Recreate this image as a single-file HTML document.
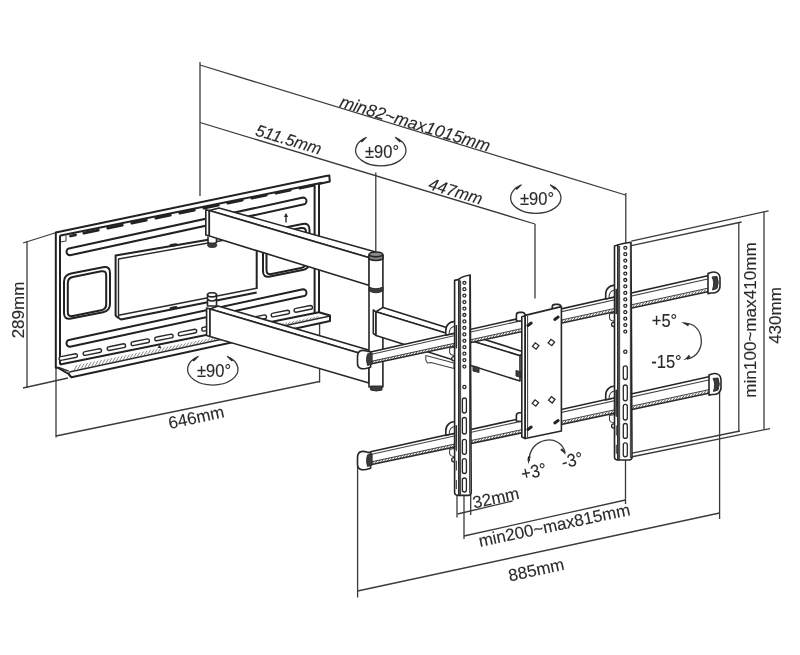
<!DOCTYPE html>
<html><head><meta charset="utf-8"><title>TV wall mount dimensions</title>
<style>
html,body{margin:0;padding:0;background:#fff;}
body{width:800px;height:655px;overflow:hidden;font-family:"Liberation Sans",sans-serif;}
svg{display:block;}
.d{stroke:#3a3a3a;stroke-width:1.3;fill:none;}
.p{stroke:#202020;stroke-width:2;fill:#fff;stroke-linejoin:round;}
.p2{stroke:#2a2a2a;stroke-width:1.4;fill:#fff;stroke-linejoin:round;}
.o{stroke:#262626;stroke-width:1.6;fill:#fff;stroke-linejoin:round;}
.t{stroke:#404040;stroke-width:1.05;fill:#fff;stroke-linejoin:round;}
.t2{stroke:#262626;stroke-width:1.3;fill:#fff;}
.s{stroke:#222;stroke-width:2.8;fill:none;stroke-linecap:round;}
.s3{stroke:#333;stroke-width:1.7;fill:none;}
.s2{stroke:#222;stroke-width:2.8;fill:none;stroke-linecap:round;}
.h{stroke:#444;stroke-width:0.9;fill:none;}
.h2{stroke:#666;stroke-width:0.8;fill:none;}
.k{stroke:#2e2e2e;stroke-width:1;fill:#3a3a3a;}
.k2{stroke:#262626;stroke-width:1.5;fill:#8a8a8a;}
.n{fill:none;}
.ah{fill:#2e2e2e;stroke:none;}
text{font-family:"Liberation Sans",sans-serif;fill:#2a2a2a;text-anchor:middle;stroke:#2a2a2a;stroke-width:0.12px;}
.ti{font-style:italic;}
</style></head>
<body>
<svg width="800" height="655" viewBox="0 0 800 655">
<defs><filter id="soft" x="0" y="0" width="800" height="655" filterUnits="userSpaceOnUse"><feGaussianBlur stdDeviation="0.42"/></filter></defs>
<rect width="800" height="655" fill="#fff"/>
<g filter="url(#soft)">
<g id="dims">
<line class="d" x1="200" y1="62" x2="200" y2="196"/>
<line class="d" x1="200" y1="65" x2="625.5" y2="195"/>
<line class="d" x1="200" y1="122.5" x2="535" y2="224"/>
<line class="d" x1="375.8" y1="172.5" x2="375.8" y2="253"/>
<line class="d" x1="535" y1="224" x2="535" y2="298.5"/>
<line class="d" x1="625.8" y1="193" x2="625.8" y2="244"/>
<line class="d" x1="631.3" y1="241.2" x2="768.6" y2="210.8"/>
<line class="d" x1="631.3" y1="245.7" x2="741.6" y2="222"/>
<line class="d" x1="738.8" y1="222.5" x2="738.8" y2="431"/>
<line class="d" x1="764" y1="212" x2="764" y2="429.5"/>
<line class="d" x1="631" y1="453.3" x2="740" y2="431"/>
<line class="d" x1="631" y1="457" x2="770" y2="428.6"/>
<line class="d" x1="625.5" y1="457" x2="625.5" y2="504"/>
<line class="d" x1="719.6" y1="392" x2="719.6" y2="519"/>
<line class="d" x1="357.6" y1="466" x2="357.6" y2="597.5"/>
<line class="d" x1="357.6" y1="591" x2="719.6" y2="513"/>
<line class="d" x1="464" y1="495" x2="464" y2="539"/>
<line class="d" x1="464" y1="536" x2="625.5" y2="500"/>
<line class="d" x1="457" y1="495" x2="457" y2="517.5"/>
<line class="d" x1="470.7" y1="495" x2="470.7" y2="515"/>
<line class="d" x1="457.5" y1="514" x2="512.5" y2="501"/>
<line class="d" x1="27" y1="241" x2="27" y2="388"/>
<line class="d" x1="23" y1="243" x2="58" y2="232"/>
<line class="d" x1="23" y1="388" x2="68" y2="378"/>
<line class="d" x1="56" y1="367" x2="56" y2="437.5"/>
<line class="d" x1="56" y1="436" x2="319.6" y2="381.5"/>
<line class="d" x1="319.6" y1="322" x2="319.6" y2="382.5"/>
</g>
<g id="plate">
<polygon class="p" points="55.8,232.5 326,176 329.3,175.5 329.8,181.5 319,184 319,312.2 330,315.5 330,321 71.5,377.3 68.6,374 58.3,367.8 55.8,367.8"/>
<line class="p" x1="59.5" y1="235.8" x2="322" y2="182.8"/>
<polyline class="t n" points="60,242 66,241 66,235.5"/>
<line class="p" x1="60" y1="236" x2="60" y2="364.5"/>
<line class="p" x1="314.6" y1="186" x2="314.6" y2="313"/>
<line class="p" x1="60" y1="364.5" x2="319" y2="312.2"/>
<line class="p2" x1="58.5" y1="367.5" x2="68.8" y2="371.2"/>
<path class="p2 n" d="M71.5 377.3 Q67.5 375 69.5 372"/>
<line class="p2" x1="69.5" y1="372" x2="330" y2="316"/>
<line class="h2" x1="74" y1="370.4" x2="77" y2="365.1"/>
<line class="h2" x1="77.5" y1="369.7" x2="80.5" y2="364.4"/>
<line class="h2" x1="81" y1="368.9" x2="84" y2="363.7"/>
<line class="h2" x1="84.5" y1="368.2" x2="87.5" y2="363"/>
<line class="h2" x1="88" y1="367.4" x2="91" y2="362.2"/>
<line class="h2" x1="91.5" y1="366.7" x2="94.5" y2="361.5"/>
<line class="h2" x1="95" y1="365.9" x2="98" y2="360.8"/>
<line class="h2" x1="98.5" y1="365.2" x2="101.5" y2="360.1"/>
<line class="h2" x1="102" y1="364.4" x2="105" y2="359.4"/>
<line class="h2" x1="105.5" y1="363.7" x2="108.5" y2="358.7"/>
<line class="h2" x1="109" y1="362.9" x2="112" y2="358"/>
<line class="h2" x1="112.5" y1="362.2" x2="115.5" y2="357.3"/>
<line class="h2" x1="116" y1="361.4" x2="119" y2="356.6"/>
<line class="h2" x1="119.5" y1="360.6" x2="122.5" y2="355.9"/>
<line class="h2" x1="123" y1="359.9" x2="126" y2="355.2"/>
<line class="h2" x1="126.5" y1="359.1" x2="129.5" y2="354.5"/>
<line class="h2" x1="130" y1="358.4" x2="133" y2="353.8"/>
<line class="h2" x1="133.5" y1="357.6" x2="136.5" y2="353.1"/>
<line class="h2" x1="137" y1="356.9" x2="140" y2="352.3"/>
<line class="h2" x1="140.5" y1="356.1" x2="143.5" y2="351.6"/>
<line class="h2" x1="144" y1="355.4" x2="147" y2="350.9"/>
<line class="h2" x1="147.5" y1="354.6" x2="150.5" y2="350.2"/>
<line class="h2" x1="151" y1="353.9" x2="154" y2="349.5"/>
<line class="h2" x1="154.5" y1="353.1" x2="157.5" y2="348.8"/>
<line class="h2" x1="158" y1="352.4" x2="161" y2="348.1"/>
<line class="h2" x1="161.5" y1="351.6" x2="164.5" y2="347.4"/>
<line class="h2" x1="165" y1="350.9" x2="168" y2="346.7"/>
<line class="h2" x1="168.5" y1="350.1" x2="171.5" y2="346"/>
<line class="h2" x1="172" y1="349.4" x2="175" y2="345.3"/>
<line class="h2" x1="175.5" y1="348.6" x2="178.5" y2="344.6"/>
<line class="h2" x1="179" y1="347.9" x2="182" y2="343.9"/>
<line class="h2" x1="182.5" y1="347.1" x2="185.5" y2="343.2"/>
<line class="h2" x1="186" y1="346.4" x2="189" y2="342.4"/>
<line class="h2" x1="189.5" y1="345.6" x2="192.5" y2="341.7"/>
<line class="h2" x1="193" y1="344.8" x2="196" y2="341"/>
<line class="h2" x1="196.5" y1="344.1" x2="199.5" y2="340.3"/>
<line class="h2" x1="200" y1="343.3" x2="203" y2="339.6"/>
<line class="h2" x1="203.5" y1="342.6" x2="206.5" y2="338.9"/>
<line class="h2" x1="207" y1="341.8" x2="210" y2="338.2"/>
<line class="h2" x1="210.5" y1="341.1" x2="213.5" y2="337.5"/>
<line class="h2" x1="214" y1="340.3" x2="217" y2="336.8"/>
<line class="h2" x1="217.5" y1="339.6" x2="220.5" y2="336.1"/>
<line class="h2" x1="221" y1="338.8" x2="224" y2="335.4"/>
<line class="h2" x1="224.5" y1="338.1" x2="227.5" y2="334.7"/>
<line class="h2" x1="228" y1="337.3" x2="231" y2="334"/>
<line class="h2" x1="231.5" y1="336.6" x2="234.5" y2="333.3"/>
<line class="h2" x1="235" y1="335.8" x2="238" y2="332.5"/>
<line class="h2" x1="238.5" y1="335.1" x2="241.5" y2="331.8"/>
<line class="h2" x1="242" y1="334.3" x2="245" y2="331.1"/>
<line class="h2" x1="245.5" y1="333.6" x2="248.5" y2="330.4"/>
<line class="h2" x1="249" y1="332.8" x2="252" y2="329.7"/>
<line class="h2" x1="252.5" y1="332.1" x2="255.5" y2="329"/>
<line class="h2" x1="256" y1="331.3" x2="259" y2="328.3"/>
<line class="h2" x1="259.5" y1="330.5" x2="262.5" y2="327.6"/>
<line class="h2" x1="263" y1="329.8" x2="266" y2="326.9"/>
<line class="h2" x1="266.5" y1="329" x2="269.5" y2="326.2"/>
<line class="h2" x1="270" y1="328.3" x2="273" y2="325.5"/>
<line class="h2" x1="273.5" y1="327.5" x2="276.5" y2="324.8"/>
<line class="h2" x1="277" y1="326.8" x2="280" y2="324.1"/>
<line class="h2" x1="280.5" y1="326" x2="283.5" y2="323.4"/>
<line class="h2" x1="284" y1="325.3" x2="287" y2="322.7"/>
<line class="h2" x1="287.5" y1="324.5" x2="290.5" y2="321.9"/>
<line class="h2" x1="291" y1="323.8" x2="294" y2="321.2"/>
<line class="h2" x1="294.5" y1="323" x2="297.5" y2="320.5"/>
<line class="h2" x1="298" y1="322.3" x2="301" y2="319.8"/>
<line class="h2" x1="301.5" y1="321.5" x2="304.5" y2="319.1"/>
<line class="h2" x1="305" y1="320.8" x2="308" y2="318.4"/>
<line class="h2" x1="308.5" y1="320" x2="311.5" y2="317.7"/>
<line class="h2" x1="312" y1="319.3" x2="315" y2="317"/>
<line class="h2" x1="315.5" y1="318.5" x2="318.5" y2="316.3"/>
<path class="ah" d="M157.5 348 l2 -3.2 l2 3.2 Z"/>
<path class="s" d="M70.5 236 l5 -1"/>
<path class="s" d="M83.8 233.2 l14.5 -3"/>
<path class="s" d="M107.8 228.2 l14.5 -3"/>
<path class="s" d="M131.8 223.2 l14.5 -3"/>
<path class="s" d="M155.8 218.2 l14.5 -3"/>
<path class="s" d="M179.8 213.2 l14.5 -3"/>
<path class="s" d="M203.8 208.2 l14.5 -3"/>
<path class="s" d="M227.8 203.1 l14.5 -3"/>
<path class="s" d="M251.8 198.1 l14.5 -3"/>
<path class="s" d="M275.8 193.1 l14.5 -3"/>
<path class="s" d="M299.8 188.1 l14.5 -3"/>
<path class="p" d="M70 248.2 L303 197.6 A3.5 3.5 0 0 1 303 204.6 L70 255.2 A3.5 3.5 0 0 1 70 248.2 Z"/>
<path class="p" d="M70 339.8 L303 289.2 A3.5 3.5 0 0 1 303 296.2 L70 346.8 A3.5 3.5 0 0 1 70 339.8 Z"/>
<path class="p2" d="M61 356.6 L75.5 353.7 A1.9 1.9 0 0 1 75.5 357.5 L61 360.4 A1.9 1.9 0 0 1 61 356.6 Z"/>
<path class="p2" d="M85.1 351.6 L99.6 348.7 A1.9 1.9 0 0 1 99.6 352.5 L85.1 355.4 A1.9 1.9 0 0 1 85.1 351.6 Z"/>
<path class="p2" d="M109.1 346.7 L123.6 343.8 A1.9 1.9 0 0 1 123.6 347.6 L109.1 350.5 A1.9 1.9 0 0 1 109.1 346.7 Z"/>
<path class="p2" d="M133 341.8 L147.5 338.9 A1.9 1.9 0 0 1 147.5 342.7 L133 345.6 A1.9 1.9 0 0 1 133 341.8 Z"/>
<path class="p2" d="M156.7 337 L171.2 334.1 A1.9 1.9 0 0 1 171.2 337.9 L156.7 340.8 A1.9 1.9 0 0 1 156.7 337 Z"/>
<path class="p2" d="M180.2 332.1 L194.8 329.2 A1.9 1.9 0 0 1 194.8 333 L180.2 335.9 A1.9 1.9 0 0 1 180.2 332.1 Z"/>
<path class="p2" d="M203.7 327.3 L218.2 324.4 A1.9 1.9 0 0 1 218.2 328.2 L203.7 331.1 A1.9 1.9 0 0 1 203.7 327.3 Z"/>
<path class="p2" d="M227 322.6 L241.5 319.7 A1.9 1.9 0 0 1 241.5 323.5 L227 326.4 A1.9 1.9 0 0 1 227 322.6 Z"/>
<path class="p2" d="M250.1 317.8 L264.6 314.9 A1.9 1.9 0 0 1 264.6 318.7 L250.1 321.6 A1.9 1.9 0 0 1 250.1 317.8 Z"/>
<path class="p2" d="M273.1 313.1 L287.6 310.2 A1.9 1.9 0 0 1 287.6 314 L273.1 316.9 A1.9 1.9 0 0 1 273.1 313.1 Z"/>
<path class="p2" d="M296 308.4 L310.5 305.5 A1.9 1.9 0 0 1 310.5 309.3 L296 312.2 A1.9 1.9 0 0 1 296 308.4 Z"/>
<path class="p" d="M71 273.6 L103 267.2 Q110 265.8 110 272.8 L110 303.8 Q110 310.8 103 312.2 L71 318.6 Q64 320 64 313 L64 282 Q64 275 71 273.6 Z"/>
<path class="p" d="M72.8 277 L101.2 271.3 Q106.2 270.3 106.2 275.3 L106.2 304.3 Q106.2 309.3 101.2 310.3 L72.8 316 Q67.8 317 67.8 312 L67.8 283 Q67.8 278 72.8 277 Z"/>
<path class="p" d="M270 230.6 L302.5 224.1 Q309.5 222.7 309.5 229.7 L309.5 261.7 Q309.5 268.7 302.5 270.1 L270 276.6 Q263 278 263 271 L263 239 Q263 232 270 230.6 Z"/>
<path class="p" d="M271.5 234 L301 228.1 Q306 227.1 306 232.1 L306 262.1 Q306 267.1 301 268.1 L271.5 274 Q266.5 275 266.5 270 L266.5 240 Q266.5 235 271.5 234 Z"/>
<polyline class="p n" points="115.6,316 115.6,255.5 256.7,231.5 256.7,289"/>
<polyline class="p2 n" points="118.5,317.5 118.5,259 256,234.5"/>
<polyline class="p n" points="115.6,316 121,319.5 256.7,292.5"/>
<polyline class="p2 n" points="118.5,315.2 256.7,288.3"/>
<polyline class="s n" points="171,245.5 176,244.6"/>
<polyline class="s n" points="171,308.3 176,307.4"/>
<line class="p2" x1="286" y1="214" x2="286" y2="222.5"/>
<path class="ah" d="M283.8 217 L286 213 L288.2 217 Z"/>
</g>
<g id="arms">
<polygon class="o" points="206.6,308 210,309 210,336.5 206.6,335.5"/>
<polygon class="o" points="210,309 218,306 372,351 369,356"/>
<polygon class="o" points="210,309 369,356 369,383 210,336.5"/>
<path class="o" d="M207.5 294.5 q4.5 -3.5 9 0 l0 11.5 l-9 0 Z"/>
<ellipse class="o" cx="212" cy="294.8" rx="4.4" ry="2.1"/>
<path class="o n" d="M207.5 299.5 q4.5 3 9 0"/>
<polygon class="o" points="205.8,209.8 209.3,210.6 209.3,236 205.8,235"/>
<polygon class="o" points="209.3,210.6 219,208 374.8,251.7 369.5,257.8"/>
<polygon class="o" points="209.3,210.6 369.5,257.8 369.5,285.5 209.3,236"/>
<path class="o" d="M208 236.5 l0 6 q4 3 8.5 0 l0 -3.5"/>
<ellipse class="k" cx="212.2" cy="245.2" rx="4.6" ry="2.2"/>
</g>
<g id="hinge">
<polygon class="o" points="369,255 382.9,255 382.9,387 369,387"/>
<path class="k2" d="M369 255 Q369 252 375.9 252 Q382.9 252 382.9 255 L382.9 259 Q375.9 262 369 259 Z"/>
<path class="o n" d="M369 255.2 Q375.9 258.6 382.9 255.2"/>
<path class="k" d="M369 287 Q375.9 290.5 382.9 287 L382.9 291 Q375.9 294.5 369 291 Z"/>
<path class="k" d="M370.6 386 L382 386 L382 390 Q376.3 392 370.6 390 Z"/>
</g>
<g id="arm2">
<polygon class="o" points="373.3,310 376,311.8 376,335.4 373.3,333.5"/>
<polygon class="o" points="376,311.8 383,307.4 524,352 520,355.7"/>
<polygon class="o" points="376,311.8 520,355.7 520,381 376,335.4"/>
<polygon class="t" points="425.8,355.5 454,363 454,368.5 431,362.5 427.5,363 425.8,360"/>
<path class="k" d="M473 366 l6 1.5 l0 5 l-6 -1.5 Z"/>
<path class="k" d="M516 370.5 l5 1.5 l0 5.5 l-5 -1.5 Z"/>
</g>
<g id="bars">
<polygon class="o" points="370.6,352 710,275.3 710,291.3 370.6,364"/>
<line class="t" x1="370.6" y1="354.4" x2="710" y2="278.5"/>
<line class="t" x1="370.6" y1="361.4" x2="710" y2="287.8"/>
<line class="h" x1="371.6" y1="363.8" x2="374" y2="360.5"/>
<line class="h" x1="374.7" y1="363.1" x2="377.1" y2="359.8"/>
<line class="h" x1="377.8" y1="362.5" x2="380.2" y2="359.2"/>
<line class="h" x1="380.9" y1="361.8" x2="383.3" y2="358.5"/>
<line class="h" x1="384" y1="361.1" x2="386.4" y2="357.8"/>
<line class="h" x1="387.1" y1="360.5" x2="389.5" y2="357.2"/>
<line class="h" x1="390.2" y1="359.8" x2="392.6" y2="356.5"/>
<line class="h" x1="393.3" y1="359.1" x2="395.7" y2="355.8"/>
<line class="h" x1="396.4" y1="358.5" x2="398.8" y2="355.2"/>
<line class="h" x1="399.5" y1="357.8" x2="401.9" y2="354.5"/>
<line class="h" x1="402.6" y1="357.1" x2="405" y2="353.8"/>
<line class="h" x1="405.7" y1="356.5" x2="408.1" y2="353.2"/>
<line class="h" x1="408.8" y1="355.8" x2="411.2" y2="352.5"/>
<line class="h" x1="411.9" y1="355.2" x2="414.3" y2="351.9"/>
<line class="h" x1="415" y1="354.5" x2="417.4" y2="351.2"/>
<line class="h" x1="418.1" y1="353.8" x2="420.5" y2="350.5"/>
<line class="h" x1="421.2" y1="353.2" x2="423.6" y2="349.9"/>
<line class="h" x1="424.3" y1="352.5" x2="426.7" y2="349.2"/>
<line class="h" x1="427.4" y1="351.8" x2="429.8" y2="348.5"/>
<line class="h" x1="430.5" y1="351.2" x2="432.9" y2="347.9"/>
<line class="h" x1="433.6" y1="350.5" x2="436" y2="347.2"/>
<line class="h" x1="436.7" y1="349.8" x2="439.1" y2="346.5"/>
<line class="h" x1="439.8" y1="349.2" x2="442.2" y2="345.9"/>
<line class="h" x1="442.9" y1="348.5" x2="445.3" y2="345.2"/>
<line class="h" x1="446" y1="347.8" x2="448.4" y2="344.5"/>
<line class="h" x1="449.1" y1="347.2" x2="451.5" y2="343.9"/>
<line class="h" x1="452.2" y1="346.5" x2="454.6" y2="343.2"/>
<line class="h" x1="455.3" y1="345.9" x2="457.7" y2="342.6"/>
<line class="h" x1="458.4" y1="345.2" x2="460.8" y2="341.9"/>
<line class="h" x1="461.5" y1="344.5" x2="463.9" y2="341.2"/>
<line class="h" x1="464.6" y1="343.9" x2="467" y2="340.6"/>
<line class="h" x1="467.7" y1="343.2" x2="470.1" y2="339.9"/>
<line class="h" x1="470.8" y1="342.5" x2="473.2" y2="339.2"/>
<line class="h" x1="473.9" y1="341.9" x2="476.3" y2="338.6"/>
<line class="h" x1="477" y1="341.2" x2="479.4" y2="337.9"/>
<line class="h" x1="480.1" y1="340.5" x2="482.5" y2="337.2"/>
<line class="h" x1="483.2" y1="339.9" x2="485.6" y2="336.6"/>
<line class="h" x1="486.3" y1="339.2" x2="488.7" y2="335.9"/>
<line class="h" x1="489.4" y1="338.6" x2="491.8" y2="335.3"/>
<line class="h" x1="492.5" y1="337.9" x2="494.9" y2="334.6"/>
<line class="h" x1="495.6" y1="337.2" x2="498" y2="333.9"/>
<line class="h" x1="498.7" y1="336.6" x2="501.1" y2="333.3"/>
<line class="h" x1="501.8" y1="335.9" x2="504.2" y2="332.6"/>
<line class="h" x1="504.9" y1="335.2" x2="507.3" y2="331.9"/>
<line class="h" x1="508" y1="334.6" x2="510.4" y2="331.3"/>
<line class="h" x1="511.1" y1="333.9" x2="513.5" y2="330.6"/>
<line class="h" x1="514.2" y1="333.2" x2="516.6" y2="329.9"/>
<line class="h" x1="517.3" y1="332.6" x2="519.7" y2="329.3"/>
<line class="h" x1="520.4" y1="331.9" x2="522.8" y2="328.6"/>
<line class="h" x1="523.5" y1="331.2" x2="525.9" y2="327.9"/>
<line class="h" x1="526.6" y1="330.6" x2="529" y2="327.3"/>
<line class="h" x1="529.7" y1="329.9" x2="532.1" y2="326.6"/>
<line class="h" x1="532.8" y1="329.3" x2="535.2" y2="326"/>
<line class="h" x1="535.9" y1="328.6" x2="538.3" y2="325.3"/>
<line class="h" x1="539" y1="327.9" x2="541.4" y2="324.6"/>
<line class="h" x1="542.1" y1="327.3" x2="544.5" y2="324"/>
<line class="h" x1="545.2" y1="326.6" x2="547.6" y2="323.3"/>
<line class="h" x1="548.3" y1="325.9" x2="550.7" y2="322.6"/>
<line class="h" x1="551.4" y1="325.3" x2="553.8" y2="322"/>
<line class="h" x1="554.5" y1="324.6" x2="556.9" y2="321.3"/>
<line class="h" x1="557.6" y1="323.9" x2="560" y2="320.6"/>
<line class="h" x1="560.7" y1="323.3" x2="563.1" y2="320"/>
<line class="h" x1="563.8" y1="322.6" x2="566.2" y2="319.3"/>
<line class="h" x1="566.9" y1="322" x2="569.3" y2="318.7"/>
<line class="h" x1="570" y1="321.3" x2="572.4" y2="318"/>
<line class="h" x1="573.1" y1="320.6" x2="575.5" y2="317.3"/>
<line class="h" x1="576.2" y1="320" x2="578.6" y2="316.7"/>
<line class="h" x1="579.3" y1="319.3" x2="581.7" y2="316"/>
<line class="h" x1="582.4" y1="318.6" x2="584.8" y2="315.3"/>
<line class="h" x1="585.5" y1="318" x2="587.9" y2="314.7"/>
<line class="h" x1="588.6" y1="317.3" x2="591" y2="314"/>
<line class="h" x1="591.7" y1="316.6" x2="594.1" y2="313.3"/>
<line class="h" x1="594.8" y1="316" x2="597.2" y2="312.7"/>
<line class="h" x1="597.9" y1="315.3" x2="600.3" y2="312"/>
<line class="h" x1="601" y1="314.6" x2="603.4" y2="311.3"/>
<line class="h" x1="604.1" y1="314" x2="606.5" y2="310.7"/>
<line class="h" x1="607.2" y1="313.3" x2="609.6" y2="310"/>
<line class="h" x1="610.3" y1="312.7" x2="612.7" y2="309.4"/>
<line class="h" x1="613.4" y1="312" x2="615.8" y2="308.7"/>
<line class="h" x1="616.5" y1="311.3" x2="618.9" y2="308"/>
<line class="h" x1="619.6" y1="310.7" x2="622" y2="307.4"/>
<line class="h" x1="622.7" y1="310" x2="625.1" y2="306.7"/>
<line class="h" x1="625.8" y1="309.3" x2="628.2" y2="306"/>
<line class="h" x1="628.9" y1="308.7" x2="631.3" y2="305.4"/>
<line class="h" x1="632" y1="308" x2="634.4" y2="304.7"/>
<line class="h" x1="635.1" y1="307.3" x2="637.5" y2="304"/>
<line class="h" x1="638.2" y1="306.7" x2="640.6" y2="303.4"/>
<line class="h" x1="641.3" y1="306" x2="643.7" y2="302.7"/>
<line class="h" x1="644.4" y1="305.4" x2="646.8" y2="302.1"/>
<line class="h" x1="647.5" y1="304.7" x2="649.9" y2="301.4"/>
<line class="h" x1="650.6" y1="304" x2="653" y2="300.7"/>
<line class="h" x1="653.7" y1="303.4" x2="656.1" y2="300.1"/>
<line class="h" x1="656.8" y1="302.7" x2="659.2" y2="299.4"/>
<line class="h" x1="659.9" y1="302" x2="662.3" y2="298.7"/>
<line class="h" x1="663" y1="301.4" x2="665.4" y2="298.1"/>
<line class="h" x1="666.1" y1="300.7" x2="668.5" y2="297.4"/>
<line class="h" x1="669.2" y1="300" x2="671.6" y2="296.7"/>
<line class="h" x1="672.3" y1="299.4" x2="674.7" y2="296.1"/>
<line class="h" x1="675.4" y1="298.7" x2="677.8" y2="295.4"/>
<line class="h" x1="678.5" y1="298" x2="680.9" y2="294.7"/>
<line class="h" x1="681.6" y1="297.4" x2="684" y2="294.1"/>
<line class="h" x1="684.7" y1="296.7" x2="687.1" y2="293.4"/>
<line class="h" x1="687.8" y1="296.1" x2="690.2" y2="292.8"/>
<line class="h" x1="690.9" y1="295.4" x2="693.3" y2="292.1"/>
<line class="h" x1="694" y1="294.7" x2="696.4" y2="291.4"/>
<line class="h" x1="697.1" y1="294.1" x2="699.5" y2="290.8"/>
<line class="h" x1="700.2" y1="293.4" x2="702.6" y2="290.1"/>
<line class="h" x1="703.3" y1="292.7" x2="705.7" y2="289.4"/>
<line class="h" x1="706.4" y1="292.1" x2="708.8" y2="288.8"/>
<polygon class="o" points="370.6,451.8 711,376.3 711,392.8 370.6,464.8"/>
<line class="t" x1="370.6" y1="454.4" x2="711" y2="379.6"/>
<line class="t" x1="370.6" y1="461.9" x2="711" y2="389.2"/>
<line class="h" x1="371.6" y1="464.6" x2="374" y2="461.3"/>
<line class="h" x1="374.7" y1="463.9" x2="377.1" y2="460.6"/>
<line class="h" x1="377.8" y1="463.3" x2="380.2" y2="460"/>
<line class="h" x1="380.9" y1="462.6" x2="383.3" y2="459.3"/>
<line class="h" x1="384" y1="462" x2="386.4" y2="458.7"/>
<line class="h" x1="387.1" y1="461.3" x2="389.5" y2="458"/>
<line class="h" x1="390.2" y1="460.7" x2="392.6" y2="457.4"/>
<line class="h" x1="393.3" y1="460" x2="395.7" y2="456.7"/>
<line class="h" x1="396.4" y1="459.3" x2="398.8" y2="456"/>
<line class="h" x1="399.5" y1="458.7" x2="401.9" y2="455.4"/>
<line class="h" x1="402.6" y1="458" x2="405" y2="454.7"/>
<line class="h" x1="405.7" y1="457.4" x2="408.1" y2="454.1"/>
<line class="h" x1="408.8" y1="456.7" x2="411.2" y2="453.4"/>
<line class="h" x1="411.9" y1="456.1" x2="414.3" y2="452.8"/>
<line class="h" x1="415" y1="455.4" x2="417.4" y2="452.1"/>
<line class="h" x1="418.1" y1="454.8" x2="420.5" y2="451.5"/>
<line class="h" x1="421.2" y1="454.1" x2="423.6" y2="450.8"/>
<line class="h" x1="424.3" y1="453.4" x2="426.7" y2="450.1"/>
<line class="h" x1="427.4" y1="452.8" x2="429.8" y2="449.5"/>
<line class="h" x1="430.5" y1="452.1" x2="432.9" y2="448.8"/>
<line class="h" x1="433.6" y1="451.5" x2="436" y2="448.2"/>
<line class="h" x1="436.7" y1="450.8" x2="439.1" y2="447.5"/>
<line class="h" x1="439.8" y1="450.2" x2="442.2" y2="446.9"/>
<line class="h" x1="442.9" y1="449.5" x2="445.3" y2="446.2"/>
<line class="h" x1="446" y1="448.9" x2="448.4" y2="445.6"/>
<line class="h" x1="449.1" y1="448.2" x2="451.5" y2="444.9"/>
<line class="h" x1="452.2" y1="447.5" x2="454.6" y2="444.2"/>
<line class="h" x1="455.3" y1="446.9" x2="457.7" y2="443.6"/>
<line class="h" x1="458.4" y1="446.2" x2="460.8" y2="442.9"/>
<line class="h" x1="461.5" y1="445.6" x2="463.9" y2="442.3"/>
<line class="h" x1="464.6" y1="444.9" x2="467" y2="441.6"/>
<line class="h" x1="467.7" y1="444.3" x2="470.1" y2="441"/>
<line class="h" x1="470.8" y1="443.6" x2="473.2" y2="440.3"/>
<line class="h" x1="473.9" y1="443" x2="476.3" y2="439.7"/>
<line class="h" x1="477" y1="442.3" x2="479.4" y2="439"/>
<line class="h" x1="480.1" y1="441.6" x2="482.5" y2="438.3"/>
<line class="h" x1="483.2" y1="441" x2="485.6" y2="437.7"/>
<line class="h" x1="486.3" y1="440.3" x2="488.7" y2="437"/>
<line class="h" x1="489.4" y1="439.7" x2="491.8" y2="436.4"/>
<line class="h" x1="492.5" y1="439" x2="494.9" y2="435.7"/>
<line class="h" x1="495.6" y1="438.4" x2="498" y2="435.1"/>
<line class="h" x1="498.7" y1="437.7" x2="501.1" y2="434.4"/>
<line class="h" x1="501.8" y1="437" x2="504.2" y2="433.7"/>
<line class="h" x1="504.9" y1="436.4" x2="507.3" y2="433.1"/>
<line class="h" x1="508" y1="435.7" x2="510.4" y2="432.4"/>
<line class="h" x1="511.1" y1="435.1" x2="513.5" y2="431.8"/>
<line class="h" x1="514.2" y1="434.4" x2="516.6" y2="431.1"/>
<line class="h" x1="517.3" y1="433.8" x2="519.7" y2="430.5"/>
<line class="h" x1="520.4" y1="433.1" x2="522.8" y2="429.8"/>
<line class="h" x1="523.5" y1="432.5" x2="525.9" y2="429.2"/>
<line class="h" x1="526.6" y1="431.8" x2="529" y2="428.5"/>
<line class="h" x1="529.7" y1="431.1" x2="532.1" y2="427.8"/>
<line class="h" x1="532.8" y1="430.5" x2="535.2" y2="427.2"/>
<line class="h" x1="535.9" y1="429.8" x2="538.3" y2="426.5"/>
<line class="h" x1="539" y1="429.2" x2="541.4" y2="425.9"/>
<line class="h" x1="542.1" y1="428.5" x2="544.5" y2="425.2"/>
<line class="h" x1="545.2" y1="427.9" x2="547.6" y2="424.6"/>
<line class="h" x1="548.3" y1="427.2" x2="550.7" y2="423.9"/>
<line class="h" x1="551.4" y1="426.6" x2="553.8" y2="423.3"/>
<line class="h" x1="554.5" y1="425.9" x2="556.9" y2="422.6"/>
<line class="h" x1="557.6" y1="425.2" x2="560" y2="421.9"/>
<line class="h" x1="560.7" y1="424.6" x2="563.1" y2="421.3"/>
<line class="h" x1="563.8" y1="423.9" x2="566.2" y2="420.6"/>
<line class="h" x1="566.9" y1="423.3" x2="569.3" y2="420"/>
<line class="h" x1="570" y1="422.6" x2="572.4" y2="419.3"/>
<line class="h" x1="573.1" y1="422" x2="575.5" y2="418.7"/>
<line class="h" x1="576.2" y1="421.3" x2="578.6" y2="418"/>
<line class="h" x1="579.3" y1="420.7" x2="581.7" y2="417.4"/>
<line class="h" x1="582.4" y1="420" x2="584.8" y2="416.7"/>
<line class="h" x1="585.5" y1="419.3" x2="587.9" y2="416"/>
<line class="h" x1="588.6" y1="418.7" x2="591" y2="415.4"/>
<line class="h" x1="591.7" y1="418" x2="594.1" y2="414.7"/>
<line class="h" x1="594.8" y1="417.4" x2="597.2" y2="414.1"/>
<line class="h" x1="597.9" y1="416.7" x2="600.3" y2="413.4"/>
<line class="h" x1="601" y1="416.1" x2="603.4" y2="412.8"/>
<line class="h" x1="604.1" y1="415.4" x2="606.5" y2="412.1"/>
<line class="h" x1="607.2" y1="414.8" x2="609.6" y2="411.5"/>
<line class="h" x1="610.3" y1="414.1" x2="612.7" y2="410.8"/>
<line class="h" x1="613.4" y1="413.4" x2="615.8" y2="410.1"/>
<line class="h" x1="616.5" y1="412.8" x2="618.9" y2="409.5"/>
<line class="h" x1="619.6" y1="412.1" x2="622" y2="408.8"/>
<line class="h" x1="622.7" y1="411.5" x2="625.1" y2="408.2"/>
<line class="h" x1="625.8" y1="410.8" x2="628.2" y2="407.5"/>
<line class="h" x1="628.9" y1="410.2" x2="631.3" y2="406.9"/>
<line class="h" x1="632" y1="409.5" x2="634.4" y2="406.2"/>
<line class="h" x1="635.1" y1="408.9" x2="637.5" y2="405.6"/>
<line class="h" x1="638.2" y1="408.2" x2="640.6" y2="404.9"/>
<line class="h" x1="641.3" y1="407.5" x2="643.7" y2="404.2"/>
<line class="h" x1="644.4" y1="406.9" x2="646.8" y2="403.6"/>
<line class="h" x1="647.5" y1="406.2" x2="649.9" y2="402.9"/>
<line class="h" x1="650.6" y1="405.6" x2="653" y2="402.3"/>
<line class="h" x1="653.7" y1="404.9" x2="656.1" y2="401.6"/>
<line class="h" x1="656.8" y1="404.3" x2="659.2" y2="401"/>
<line class="h" x1="659.9" y1="403.6" x2="662.3" y2="400.3"/>
<line class="h" x1="663" y1="403" x2="665.4" y2="399.7"/>
<line class="h" x1="666.1" y1="402.3" x2="668.5" y2="399"/>
<line class="h" x1="669.2" y1="401.6" x2="671.6" y2="398.3"/>
<line class="h" x1="672.3" y1="401" x2="674.7" y2="397.7"/>
<line class="h" x1="675.4" y1="400.3" x2="677.8" y2="397"/>
<line class="h" x1="678.5" y1="399.7" x2="680.9" y2="396.4"/>
<line class="h" x1="681.6" y1="399" x2="684" y2="395.7"/>
<line class="h" x1="684.7" y1="398.4" x2="687.1" y2="395.1"/>
<line class="h" x1="687.8" y1="397.7" x2="690.2" y2="394.4"/>
<line class="h" x1="690.9" y1="397.1" x2="693.3" y2="393.8"/>
<line class="h" x1="694" y1="396.4" x2="696.4" y2="393.1"/>
<line class="h" x1="697.1" y1="395.7" x2="699.5" y2="392.4"/>
<line class="h" x1="700.2" y1="395.1" x2="702.6" y2="391.8"/>
<line class="h" x1="703.3" y1="394.4" x2="705.7" y2="391.1"/>
<line class="h" x1="706.4" y1="393.8" x2="708.8" y2="390.5"/>
<path class="o" d="M367 351.1 c-6 -2 -9.5 0 -9.5 5.5 l0 7 c0 5 4 6 9.5 4.6 l3.6 -1 l0 -15.3 Z"/>
<path class="k" d="M367.5 353.9 q-2 5.5 0 11.5 l4.6 -1.3 l0 -11 Z"/>
<path class="o" d="M367 452.1 c-6 -2 -9.5 0 -9.5 5.5 l0 7 c0 5 4 6 9.5 4.6 l3.6 -1 l0 -15.3 Z"/>
<path class="k" d="M367.5 454.9 q-2 5.5 0 11.5 l4.6 -1.3 l0 -11 Z"/>
<path class="o" d="M709.5 273 c5 -2 10.5 -1 10.5 6 l0 7 c0 5 -4 7.5 -9 7 l-3 0.6 l0 -20 Z"/>
<path class="k" d="M712 277 q3 5 0.5 13 l4.5 -1.5 q2.5 -6 0 -12 Z"/>
<path class="o" d="M710.5 374.5 c5 -2 10.5 -1 10.5 6 l0 7 c0 5 -4 7.5 -9 7 l-3 0.6 l0 -20 Z"/>
<path class="k" d="M713 378.5 q3 5 0.5 13 l4.5 -1.5 q2.5 -6 0 -12 Z"/>
</g>
<g id="cplate">
<path class="o" d="M516.4 321 l0 -6 q0 -2.6 3 -2.6 l3 0 q2 0 3 2.5 l0 6 Z"/>
<path class="o" d="M552.2 311 l0 -4 q0 -2.6 3 -2.6 l3 0 q2.2 0 2.8 2.2 l0 4 Z"/>
<path class="o" d="M516.4 421 l0 -5.5 q0 -2.8 3 -2.8 l4 0 l0 9 Z"/>
<polygon class="o" points="521.8,317 525.2,315.4 525.2,438.5 521.8,437"/>
<polygon class="o" points="525.2,315.4 561.4,306.6 561.4,431 525.2,438.5"/>
<line class="t" x1="527.6" y1="316" x2="527.6" y2="437.5"/>
<polygon class="t2" points="532.5,346.4 535.3,342.8 538.9,345.6 536.1,349.2"/>
<polygon class="t2" points="548.2,342.9 551,339.3 554.6,342.1 551.8,345.7"/>
<polygon class="t2" points="532.2,403.4 535,399.8 538.6,402.6 535.8,406.2"/>
<polygon class="t2" points="548.6,400.2 551.4,396.6 555,399.4 552.2,403"/>
<path class="s2" d="M527.8 325.5 l3.5 -2.5"/>
<path class="s2" d="M554.7 319.5 l3.5 -2.5"/>
<path class="s2" d="M527.8 429.5 l3.5 -2.5"/>
<path class="s2" d="M554.7 423 l3.5 -2.5"/>
</g>
<g id="vesa">
<path class="o" d="M455.1 321.7 C450.6 321 445.8 324.5 445.8 330.5 L445.8 335.2 L455.1 333.1 Z"/>
<path class="t n" d="M449.2 334.3 C449 329 451.1 326.5 455.1 326.2"/>
<path class="t" d="M449.6 348.3 L449.6 352.4 Q450 355.4 455.1 355.4 L455.1 347.1 Z"/>
<circle class="t2" cx="453.8" cy="358.7" r="2.1"/>
<path class="o" d="M455.1 421.9 C450.6 421.2 445.8 424.7 445.8 430.7 L445.8 435.4 L455.1 433.3 Z"/>
<path class="t n" d="M449.2 434.5 C449 429.2 451.1 426.7 455.1 426.4"/>
<path class="t" d="M449.6 449.4 L449.6 453.5 Q450 456.5 455.1 456.5 L455.1 448.2 Z"/>
<circle class="t2" cx="453.8" cy="459.8" r="2.1"/>
<path class="o" d="M454.6 280.4 L459 279.4 L459 495.4 Q454.6 495.4 454.6 492.4 Z"/>
<path class="o" d="M459 279.4 Q461 276.5 470.2 275 L471.2 492.4 Q471.2 495.4 468.2 495.4 L459 495.4 Z"/>
<line class="s3" x1="456.3" y1="325" x2="456.3" y2="348.4"/>
<line class="s3" x1="456.3" y1="425.2" x2="456.3" y2="449.5"/>
<line class="t" x1="460.6" y1="280.4" x2="460.6" y2="495.4"/>
<line class="t" x1="469.6" y1="276" x2="469.6" y2="493.4"/>
<circle class="t2" cx="464.4" cy="282.8" r="1.5"/>
<circle class="t2" cx="464.4" cy="289.2" r="1.5"/>
<circle class="t2" cx="464.4" cy="295.6" r="1.5"/>
<circle class="t2" cx="464.4" cy="302.1" r="1.5"/>
<circle class="t2" cx="464.4" cy="308.6" r="1.5"/>
<circle class="t2" cx="464.4" cy="315" r="1.5"/>
<circle class="t2" cx="464.4" cy="321.4" r="1.5"/>
<circle class="t2" cx="464.4" cy="327.9" r="1.5"/>
<circle class="t2" cx="464.4" cy="334.4" r="1.5"/>
<circle class="t2" cx="464.4" cy="340.8" r="1.5"/>
<circle class="t2" cx="464.4" cy="347.2" r="1.5"/>
<circle class="t2" cx="464.4" cy="353.7" r="1.5"/>
<circle class="t2" cx="464.4" cy="360.1" r="1.5"/>
<circle class="t2" cx="464.4" cy="366.6" r="1.5"/>
<circle class="t2" cx="464.4" cy="387" r="1.6"/>
<path class="t2" d="M462.4 400 L462.4 411 A2 2 0 0 0 466.4 411 L466.4 400 A2 2 0 0 0 462.4 400 Z"/>
<path class="t2" d="M462.4 419.5 L462.4 432 A2 2 0 0 0 466.4 432 L466.4 419.5 A2 2 0 0 0 462.4 419.5 Z"/>
<path class="t2" d="M462.4 441.4 L462.4 452.3 A2 2 0 0 0 466.4 452.3 L466.4 441.4 A2 2 0 0 0 462.4 441.4 Z"/>
<path class="t2" d="M462.4 460.7 L462.4 471.5 A2 2 0 0 0 466.4 471.5 L466.4 460.7 A2 2 0 0 0 462.4 460.7 Z"/>
<path class="t2" d="M462.4 480 L462.4 490 A2 2 0 0 0 466.4 490 L466.4 480 A2 2 0 0 0 462.4 480 Z"/>
<line class="t" x1="456.4" y1="441.4" x2="456.4" y2="451.3"/>
<line class="t" x1="456.4" y1="460.7" x2="456.4" y2="470.5"/>
<line class="t" x1="456.4" y1="480" x2="456.4" y2="489"/>
<path class="o" d="M615 285.5 C610.5 284.8 605.7 288.3 605.7 294.3 L605.7 299 L615 296.9 Z"/>
<path class="t n" d="M609.1 298.1 C608.9 292.8 611 290.3 615 290"/>
<path class="t" d="M609.5 314 L609.5 318.1 Q609.9 321.1 615 321.1 L615 312.8 Z"/>
<circle class="t2" cx="613.7" cy="324.4" r="2.1"/>
<path class="o" d="M615 386.4 C610.5 385.7 605.7 389.2 605.7 395.2 L605.7 399.9 L615 397.8 Z"/>
<path class="t n" d="M609.1 399 C608.9 393.7 611 391.2 615 390.9"/>
<path class="t" d="M609.5 415.6 L609.5 419.7 Q609.9 422.7 615 422.7 L615 414.4 Z"/>
<circle class="t2" cx="613.7" cy="426" r="2.1"/>
<path class="o" d="M614.5 246 L618 245 L618 460 Q614.5 460 614.5 457 Z"/>
<path class="o" d="M618 245 Q620 243.8 631 242.3 L632 457 Q632 460 629 460 L618 460 Z"/>
<line class="s3" x1="616.2" y1="288.8" x2="616.2" y2="314.1"/>
<line class="s3" x1="616.2" y1="389.7" x2="616.2" y2="415.7"/>
<line class="t" x1="619.6" y1="246" x2="619.6" y2="460"/>
<line class="t" x1="630.4" y1="243.3" x2="630.4" y2="458"/>
<circle class="t2" cx="625.3" cy="247.8" r="1.5"/>
<circle class="t2" cx="625.3" cy="254.2" r="1.5"/>
<circle class="t2" cx="625.3" cy="260.6" r="1.5"/>
<circle class="t2" cx="625.3" cy="267.1" r="1.5"/>
<circle class="t2" cx="625.3" cy="273.6" r="1.5"/>
<circle class="t2" cx="625.3" cy="280" r="1.5"/>
<circle class="t2" cx="625.3" cy="286.4" r="1.5"/>
<circle class="t2" cx="625.3" cy="292.9" r="1.5"/>
<circle class="t2" cx="625.3" cy="299.4" r="1.5"/>
<circle class="t2" cx="625.3" cy="305.8" r="1.5"/>
<circle class="t2" cx="625.3" cy="312.2" r="1.5"/>
<circle class="t2" cx="625.3" cy="318.7" r="1.5"/>
<circle class="t2" cx="625.3" cy="325.1" r="1.5"/>
<circle class="t2" cx="625.3" cy="331.6" r="1.5"/>
<circle class="t2" cx="625.3" cy="351.8" r="1.6"/>
<path class="t2" d="M623.3 367.8 L623.3 377.5 A2 2 0 0 0 627.3 377.5 L627.3 367.8 A2 2 0 0 0 623.3 367.8 Z"/>
<path class="t2" d="M623.3 387 L623.3 398.8 A2 2 0 0 0 627.3 398.8 L627.3 387 A2 2 0 0 0 623.3 387 Z"/>
<path class="t2" d="M623.3 406.3 L623.3 418 A2 2 0 0 0 627.3 418 L627.3 406.3 A2 2 0 0 0 623.3 406.3 Z"/>
<path class="t2" d="M623.3 425.5 L623.3 436.4 A2 2 0 0 0 627.3 436.4 L627.3 425.5 A2 2 0 0 0 623.3 425.5 Z"/>
<path class="t2" d="M623.3 444.8 L623.3 454.8 A2 2 0 0 0 627.3 454.8 L627.3 444.8 A2 2 0 0 0 623.3 444.8 Z"/>
<line class="t" x1="616.3" y1="406.3" x2="616.3" y2="417"/>
<line class="t" x1="616.3" y1="425.5" x2="616.3" y2="435.4"/>
<line class="t" x1="616.3" y1="444.8" x2="616.3" y2="453.8"/>
</g>
<g id="sym">
<path class="d n" d="M395.1 137.3 A25.2 15.7 0 1 1 366.5 137.3"/>
<path class="ah" d="M394.8 136.7 l6.6 4.2 l-1.6 1.5 q-3.2 -2.2 -5 -5.7 Z"/>
<path class="ah" d="M366.8 136.7 l-6.6 4.2 l1.6 1.5 q3.2 -2.2 5 -5.7 Z"/>
<text class="tx" font-size="16.5" transform="translate(382 157.5) scale(1 1.06)">±90°</text>
<path class="d n" d="M550.1 184.8 A25.2 15.7 0 1 1 521.5 184.8"/>
<path class="ah" d="M549.8 184.2 l6.6 4.2 l-1.6 1.5 q-3.2 -2.2 -5 -5.7 Z"/>
<path class="ah" d="M521.8 184.2 l-6.6 4.2 l1.6 1.5 q3.2 -2.2 5 -5.7 Z"/>
<text class="tx" font-size="16.5" transform="translate(537 205) scale(1 1.06)">±90°</text>
<path class="d n" d="M227.1 356.4 A25.2 15.7 0 1 1 198.5 356.4"/>
<path class="ah" d="M226.8 355.8 l6.6 4.2 l-1.6 1.5 q-3.2 -2.2 -5 -5.7 Z"/>
<path class="ah" d="M198.8 355.8 l-6.6 4.2 l1.6 1.5 q3.2 -2.2 5 -5.7 Z"/>
<text class="tx" font-size="16.5" transform="translate(214 376.6) scale(1 1.06)">±90°</text>
<path class="d n" d="M684 323.5 C705 322 708 355 687 359"/>
<path class="ah" d="M681.5 322.4 q4 -0.6 7.5 1.6 l-0.8 2.6 q-3 -2.6 -6.7 -4.2 Z"/>
<path class="ah" d="M683 360.2 q4 -0.2 7.6 -3.2 l-1.6 -2.2 q-2.4 3.2 -6 5.4 Z"/>
<text class="tx" font-size="16.5" transform="translate(664.5 327.3) scale(1 1.1)">+5°</text>
<text class="tx" font-size="16.5" transform="translate(666.5 367.6) scale(1 1.1)">-15°</text>
<path class="d n" d="M529.2 461 C528.5 437 561 432.5 565.2 453"/>
<path class="ah" d="M528.6 464.2 q-2 -4 -0.6 -8 l2.8 0.6 q-1.8 3.4 -2.2 7.4 Z"/>
<path class="ah" d="M565.8 455 q-0.4 -4 -3.6 -6.8 l-2 1.8 q3.2 2 5.6 5 Z"/>
<text class="tx" font-size="16.5" transform="translate(535 477.5) rotate(-12) scale(1 1.1)">+3°</text>
<text class="tx" font-size="16.5" transform="translate(573.5 466.2) rotate(-12) scale(1 1.1)">-3°</text>
</g>
<g id="labels">
<text class="ti" font-size="17.2" transform="translate(413.5 129.2) rotate(16.8)">min82~max1015mm</text>
<text class="ti" font-size="16.6" transform="translate(287 145) rotate(16.8)">511.5mm</text>
<text class="ti" font-size="16.6" transform="translate(454 196.8) rotate(16.8)">447mm</text>
<text class="tx" font-size="17.1" transform="translate(756 320) rotate(-90)">min100~max410mm</text>
<text class="tx" font-size="17" transform="translate(781 315.5) rotate(-90)">430mm</text>
<text class="tx" font-size="17" transform="translate(24 310) rotate(-90)">289mm</text>
<text class="tx" font-size="17" transform="translate(197.5 423) rotate(-12)">646mm</text>
<text class="tx" font-size="17" transform="translate(497 503.5) rotate(-12)">32mm</text>
<text class="tx" font-size="17" transform="translate(555.5 531) rotate(-12)">min200~max815mm</text>
<text class="tx" font-size="17" transform="translate(537.5 575.5) rotate(-12)">885mm</text>
</g>
</g>
</svg>
</body></html>
